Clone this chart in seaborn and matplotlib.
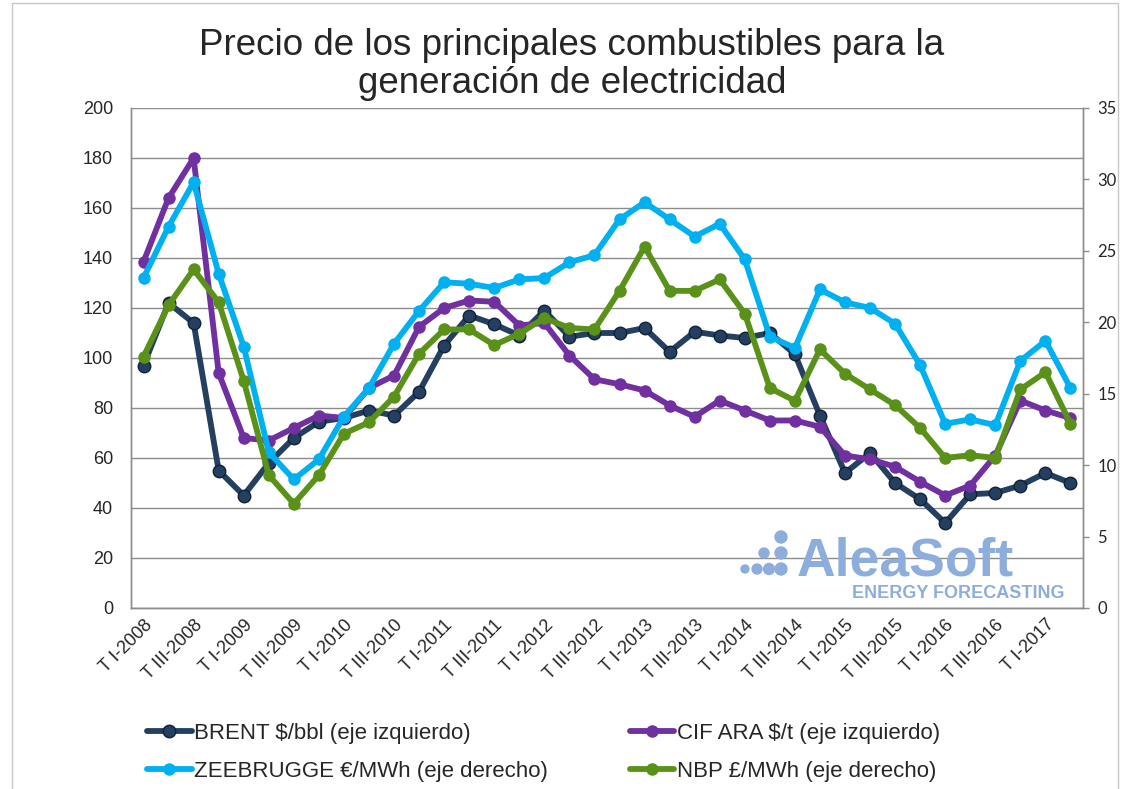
import matplotlib
matplotlib.use('Agg')
import matplotlib.pyplot as plt
from matplotlib.patches import Circle, Rectangle
import seaborn as sns

# --- data (quarterly averages) ---
quarters = [f"T {q}-{y}" for y in range(2008, 2018) for q in ["I", "II", "III", "IV"]][:38]

brent = [97, 122, 114, 55, 45, 58, 68, 74.5, 76, 79, 77, 86.5, 105, 117, 113.5, 109,
         119, 108.5, 110, 110, 112, 102.5, 110.5, 109, 108, 110, 101.5, 77, 54, 62,
         50, 43.5, 34, 45.5, 46, 49, 54, 50]
cif_ara = [138.5, 164, 180, 94, 68, 67, 72, 77, 76, 88, 93, 112.5, 120, 123, 122.5, 113,
           114, 101, 91.5, 89.5, 87, 81, 76.5, 83, 79, 75, 75, 72.5, 61, 59.5,
           56.5, 50.5, 45, 49, 61, 83, 79, 76]
zeebrugge = [23.1, 26.7, 29.8, 23.4, 18.3, 10.9, 9.0, 10.4, 13.4, 15.4, 18.5, 20.8, 22.8,
             22.7, 22.4, 23.0, 23.1, 24.2, 24.7, 27.2, 28.4, 27.2, 26.0, 26.9, 24.4, 19.0,
             18.2, 22.3, 21.4, 21.0, 19.9, 17.0, 12.9, 13.2, 12.8, 17.3, 18.7, 15.4]
nbp = [17.6, 21.2, 23.7, 21.4, 15.9, 9.3, 7.3, 9.3, 12.2, 13.0, 14.8, 17.8, 19.5, 19.5,
       18.4, 19.2, 20.3, 19.6, 19.5, 22.2, 25.3, 22.2, 22.2, 23.0, 20.6, 15.4, 14.5, 18.1,
       16.4, 15.3, 14.2, 12.6, 10.5, 10.7, 10.5, 15.3, 16.5, 12.9]

labels = ["BRENT $/bbl (eje izquierdo)", "CIF ARA $/t (eje izquierdo)",
          "ZEEBRUGGE €/MWh (eje derecho)", "NBP £/MWh (eje derecho)"]
colors = ["#243F60", "#7030A0", "#00B0F0", "#5A9219"]

sns.set_style("white")
plt.rcParams['font.family'] = ['Liberation Sans', 'DejaVu Sans']

W, H = 1126, 789
fig = plt.figure(figsize=(W / 100, H / 100), dpi=100)
ax = fig.add_axes([131 / W, 1 - 608 / H, (1083 - 131) / W, 500 / H])
ax2 = ax.twinx()

x = list(range(len(quarters)))
style = dict(marker='o', markersize=9, linewidth=4.2, markeredgewidth=0)
sns.lineplot(x=x, y=brent, ax=ax, color=colors[0], label=labels[0], **style)
sns.lineplot(x=x, y=cif_ara, ax=ax, color=colors[1], label=labels[1], **style)
sns.lineplot(x=x, y=zeebrugge, ax=ax2, color=colors[2], label=labels[2], **style)
sns.lineplot(x=x, y=nbp, ax=ax2, color=colors[3], label=labels[3], **style)
ax.lines[0].set_markeredgecolor("#102238")
ax.lines[0].set_markeredgewidth(1)

grey = "#8C8C8C"
ax.set_xlim(-0.5, len(quarters) - 0.5)
ax.set_ylim(0, 200)
ax.set_yticks(range(0, 201, 20))
ax2.set_ylim(0, 35)
ax2.set_yticks(range(0, 36, 5))
ax.set_xticks(x[::2])
ax.set_xticklabels(quarters[::2], rotation=45, ha='right', rotation_mode='anchor', fontsize=13)
ax.tick_params(axis='x', length=0, pad=6)
ax.tick_params(axis='y', length=0, labelsize=13, pad=13)
ax2.tick_params(axis='y', length=4.5, width=1, color=grey, pad=6)
for t in ax2.get_yticklabels():
    t.set_fontfamily(['Lato', 'DejaVu Sans'])
    t.set_fontsize(12)
ax.grid(axis='y', color=grey, linewidth=1)
ax.set_axisbelow(True)
for a in (ax, ax2):
    a.spines['top'].set_visible(False)
    for s in ('left', 'right', 'bottom'):
        a.spines[s].set_color(grey)
        a.spines[s].set_linewidth(1)
    a.set_xlabel("")
    a.set_ylabel("")

# legend below the plot, two columns
h1, l1 = ax.get_legend_handles_labels()
h2, l2 = ax2.get_legend_handles_labels()
ax.get_legend().remove()
ax2.get_legend().remove()
handles = [h1[0], h2[0], h1[1], h2[1]]
names = [l1[0], l2[0], l1[1], l2[1]]
fig.legend(handles, names, ncol=2, loc='upper left', bbox_to_anchor=(136 / W, 1 - 712 / H),
           frameon=False, fontsize=16, handlelength=2.0, handletextpad=0.1,
           columnspacing=3.7, labelspacing=0.75, borderpad=0)

fig.text(572 / W, 1 - 28 / H,
         "Precio de los principales combustibles para la\ngeneración de electricidad",
         ha='center', va='top', fontsize=26.5, linespacing=1.12)

# AleaSoft watermark
wm = "#8DAEDD"
fig.text(797 / W, 1 - 576 / H, "AleaSoft", color=wm, fontsize=38.5, fontweight='bold', va='baseline')
fig.text(852 / W, 1 - 598 / H, "ENERGY FORECASTING", color=wm, fontsize=13, fontweight='bold', va='baseline')
dots = [(745, 569, 4), (757, 569, 5), (769, 569, 5.5), (781, 569, 6),
        (764, 553, 5), (781, 553, 6), (781, 537, 6)]
for px, py, r in dots:
    fig.patches.append(Circle((px / 100, (H - py) / 100), r / 100, transform=fig.dpi_scale_trans,
                              color=wm, zorder=5))

fig.patches.append(Rectangle((12 / W, -0.01), (1118 - 12) / W, 1.0 - 3 / H + 0.01,
                             transform=fig.transFigure, fill=False, edgecolor="#C8C8C8", linewidth=1))

fig.savefig("out.png", dpi=100)
